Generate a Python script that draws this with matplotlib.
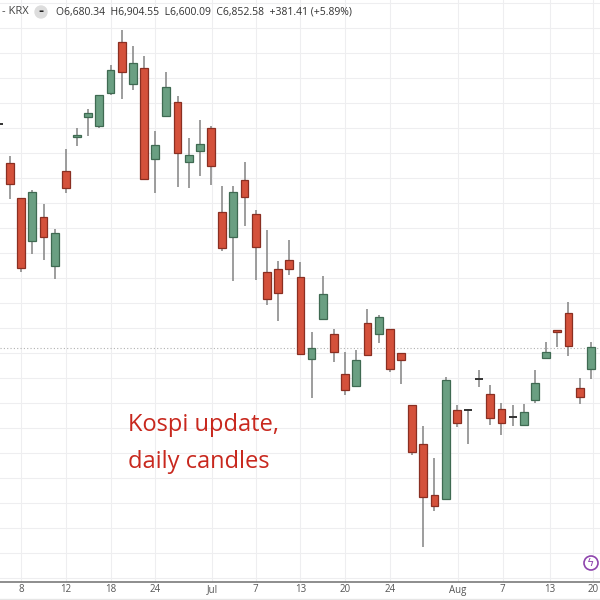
import numpy as np
import matplotlib.pyplot as plt
from matplotlib.patches import Circle

# daily candles, levels (higher = higher price)
day = list(range(-1, 53))
opens = [476, 437, 402, 359, 383, 334, 429, 463, 483, 474, 507, 558, 516, 532, 441, 484, 498,
         438, 449, 472,
         388, 363, 420, 386, 328, 331, 340, 323, 241, 281, 266, 226, 214, 277, 266, 271, 247,
         195, 156, 105, 101, 190, 190, 221, 206, 191, 183, 175, 200, 242, 270, 287, 212, 231]
closes = [477, 416, 332, 408, 363, 367, 412, 465, 487, 505, 530, 528, 537, 421, 455, 513, 447,
          445, 456, 434,
          352, 408, 403, 353, 301, 307, 331, 246, 252, 306, 248, 210, 240, 245, 283, 231, 240,
          148, 103, 94, 220, 177, 190, 221, 182, 177, 183, 188, 217, 248, 268, 254, 203, 253]
highs = [477, 444, 402, 410, 396, 371, 451, 472, 491, 505, 535, 570, 554, 544, 469, 528, 504,
         462, 480, 474,
         414, 414, 438, 390, 370, 339, 360, 338, 268, 324, 271, 248, 250, 291, 285, 271, 247,
         195, 174, 142, 223, 195, 191, 230, 215, 197, 195, 196, 230, 258, 270, 298, 222, 258]
lows = [476, 401, 328, 346, 340, 321, 407, 454, 464, 472, 505, 501, 510, 421, 407, 484, 413,
        412, 424, 415,
        349, 319, 374, 320, 295, 279, 325, 246, 202, 281, 238, 205, 214, 245, 257, 228, 216,
        145, 53, 89, 101, 173, 156, 213, 175, 165, 174, 175, 197, 242, 253, 244, 196, 221]

tick_days = [1, 5, 9, 13, 18.1, 22, 26, 30, 34, 40.1, 44.1, 48.3, 52.2]
tick_labels = ["8", "12", "18", "24", "Jul", "7", "13", "20", "24", "Aug", "7", "13", "20"]

red = "#d4513b"
red_edge = "#8a2f22"
green = "#6a9f82"
green_edge = "#3f6a52"
wick = "#8c8c8c"

fig = plt.figure(figsize=(6, 6), dpi=100)
ax = fig.add_axes([0, 18 / 600, 1, 582 / 600])
step = 11.17
ax.set_xlim(-10 / step, 590 / step)
ax.set_ylim(18, 600)
ax.axis("off")

for g in np.arange(22, 600, 25):
    ax.axhline(g, color="#eeeef0", lw=0.8, zorder=0)
for t in tick_days:
    ax.axvline(t, color="#eeeef0", lw=0.8, zorder=0)

ax.axhline(252, color="#b0b0b0", lw=0.8, ls=(0, (1, 2)), zorder=1)

w = 0.7
for d, o, c, h, l in zip(day, opens, closes, highs, lows):
    up = c >= o
    ax.vlines(d, l, h, color=wick, lw=1.2, zorder=2)
    lo, hi = min(o, c), max(o, c)
    if hi - lo < 1.5:
        ax.hlines((o + c) / 2, d - w / 2, d + w / 2, color="#333333", lw=1.4, zorder=3)
        continue
    ax.bar(d, hi - lo, w, bottom=lo, color=green if up else red,
           edgecolor=green_edge if up else red_edge, lw=0.9, zorder=3)

# bottom time axis
fig.add_artist(plt.Line2D([0, 1], [18 / 600, 18 / 600], color="#7a7a7a", lw=1.2))
fig.add_artist(plt.Line2D([0, 1], [1 / 600, 1 / 600], color="#e6e6e6", lw=1))
for t, lab in zip(tick_days, tick_labels):
    fig.text((10 + t * step) / 600, 10 / 600, lab, ha="center", va="center",
             fontsize=7, color="#555555", family="Open Sans")

ax.text(118 / step, 600 - 425, "Kospi update,", fontsize=17, color="#c8281e",
        va="center", family="Open Sans")
ax.text(118 / step, 600 - 462, "daily candles", fontsize=17, color="#c8281e",
        va="center", family="Open Sans")

# header
fig.text(2 / 600, 1 - 12 / 600, "- KRX", fontsize=8, color="#444444", va="center", family="Open Sans")
fig.add_artist(Circle((41 / 600, 1 - 12 / 600), 6 / 600, color="#dddddd", transform=fig.transFigure))
fig.text(41 / 600, 1 - 12 / 600, "-", fontsize=9, color="#222222", ha="center", va="center",
         weight="bold")
fig.text(56 / 600, 1 - 12 / 600,
         "O6,680.34  H6,904.55  L6,600.09  C6,852.58  +381.41 (+5.89%)",
         fontsize=7.5, color="#333333", va="center", family="Open Sans")

fig.add_artist(Circle((591 / 600, 1 - 563 / 600), 7 / 600, facecolor="white",
                      edgecolor="#8e44ad", lw=1.2, transform=fig.transFigure))
fig.text(591 / 600, 1 - 563 / 600, "ϟ", fontsize=8, color="#8e44ad", ha="center", va="center")

fig.savefig("out.png", dpi=100, facecolor="white")
